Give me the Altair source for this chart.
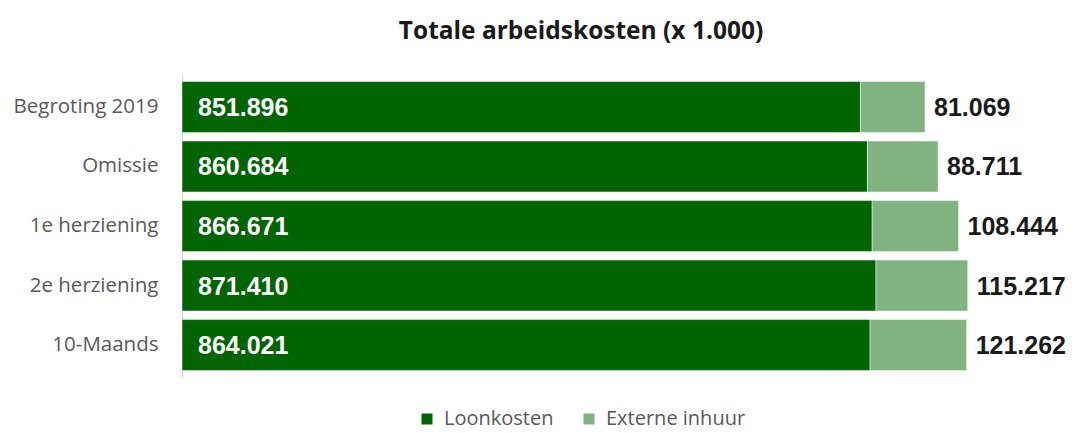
import altair as alt
import pandas as pd

categories = ["Begroting 2019", "Omissie", "1e herziening", "2e herziening", "10-Maands"]
loonkosten = [851896, 860684, 866671, 871410, 864021]
externe = [81069, 88711, 108444, 115217, 121262]
series = ["Loonkosten", "Externe inhuur"]
colors = ["#006400", "#80B380"]


def nl(v):
    return f"{v:,}".replace(",", ".")


rows = []
for c, l, e in zip(categories, loonkosten, externe):
    rows.append({"cat": c, "serie": series[0], "val": l, "ord": 0})
    rows.append({"cat": c, "serie": series[1], "val": e, "ord": 1})
df = pd.DataFrame(rows)

lab = pd.DataFrame({
    "cat": categories,
    "loon_txt": [nl(v) for v in loonkosten],
    "ext_txt": [nl(v) for v in externe],
    "total": [l + e for l, e in zip(loonkosten, externe)],
})

yenc = alt.Y(
    "cat:N",
    sort=categories,
    scale=alt.Scale(paddingInner=0.145, paddingOuter=0.11),
    axis=alt.Axis(
        title=None, ticks=False, domainColor="#D0D0D0", domainWidth=1,
        labelFont="Open Sans", labelFontSize=20.5, labelColor="#595959",
        labelPadding=24,
    ),
)
xscale = alt.Scale(domain=[0, 1100000], nice=False, zero=True)

bars = alt.Chart(df).mark_bar(stroke="white", strokeWidth=0.8, strokeOpacity=0.6).encode(
    x=alt.X("val:Q", stack="zero", scale=xscale, axis=None),
    y=yenc,
    color=alt.Color(
        "serie:N",
        scale=alt.Scale(domain=series, range=colors),
        sort=series,
        legend=alt.Legend(
            title=None, orient="none", direction="horizontal",
            legendX=235, legendY=334,
            symbolType="square", symbolSize=121, symbolStrokeWidth=0,
            labelFont="Open Sans", labelFontSize=20, labelColor="#595959",
            columnPadding=25, labelOffset=7,
        ),
    ),
    order=alt.Order("ord:Q"),
)

inner = alt.Chart(lab).mark_text(
    align="left", baseline="middle", dx=16, dy=1,
    font="Liberation Sans", fontSize=25, fontWeight="bold", color="white",
).encode(
    x=alt.datum(0),
    y=alt.Y("cat:N", sort=categories),
    text="loon_txt:N",
)

outer = alt.Chart(lab).mark_text(
    align="left", baseline="middle", dx=9, dy=1,
    font="Liberation Sans", fontSize=25, fontWeight="bold", color="#1A1A1A",
).encode(
    x=alt.X("total:Q"),
    y=alt.Y("cat:N", sort=categories),
    text="ext_txt:N",
)

chart = alt.layer(bars, inner, outer).properties(
    width=876,
    height=302,
    title=alt.TitleParams(
        "Totale arbeidskosten (x 1.000)",
        font="Open Sans", fontSize=24.5, fontWeight="bold", color="#1A1A1A",
        anchor="middle", dx=-39, offset=31,
    ),
    autosize=alt.AutoSizeParams(type="none"),
    padding={"left": 182, "top": 75, "right": 18, "bottom": 56},
).configure(background="white").configure_view(stroke=None, strokeWidth=0)

chart.save("out.html", embed_options={"renderer": "svg", "actions": False})
